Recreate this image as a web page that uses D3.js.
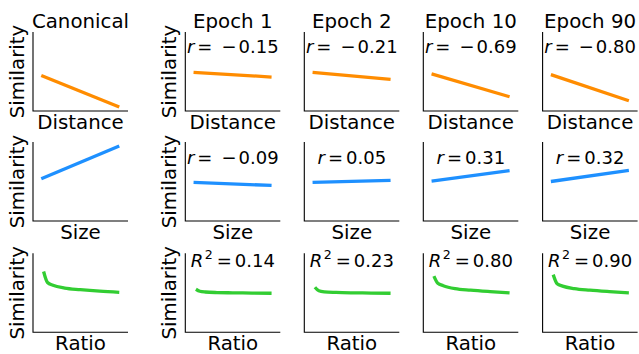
<!DOCTYPE html>
<html>
<head>
<meta charset="utf-8">
<script src="https://cdn.jsdelivr.net/npm/d3@7"></script>
<style>
  body { margin: 0; background: #fff; }
  text { font-family: "DejaVu Sans", sans-serif; fill: #000; }
</style>
</head>
<body>
<div id="chart"></div>
<script>
// column titles and row x-labels
const panelTitles = ["Canonical", "Epoch 1", "Epoch 2", "Epoch 10", "Epoch 90"];
const rowLabels = ["Distance", "Size", "Ratio"];

// linear rows: similarity at x=0 and x=1
const lineX = [0, 1];
const distanceLines = [[0.45, 0.05], [0.49, 0.43], [0.49, 0.40], [0.47, 0.18], [0.46, 0.13]];
const sizeLines = [[0.535, 0.95], [0.49, 0.45], [0.49, 0.515], [0.506, 0.637], [0.50, 0.64]];

// ratio row: curve samples
const ratioX = [0.03, 0.08, 0.15, 0.3, 0.5, 0.75, 1.0];
const ratioCurves = [
  [0.77, 0.63, 0.595, 0.56, 0.54, 0.52, 0.505],
  [0.545, 0.52, 0.51, 0.503, 0.50, 0.497, 0.494],
  [0.57, 0.525, 0.512, 0.505, 0.50, 0.497, 0.494],
  [0.71, 0.62, 0.59, 0.553, 0.533, 0.515, 0.50],
  [0.73, 0.615, 0.585, 0.553, 0.533, 0.515, 0.50]
];

// annotations (null = none)
const distanceR = [null, -0.15, -0.21, -0.69, -0.80];
const sizeR = [null, -0.09, 0.05, 0.31, 0.32];
const ratioR2 = [null, 0.14, 0.23, 0.80, 0.90];

const rowColors = ["#ff8c00", "#1e90ff", "#32cd32"];

const width = 639;
const height = 354;
const colLeft = [33, 185.3, 304.3, 423.3, 542.6];
const rowTop = [32, 142, 253.3];
const axW = 95;
const axH = 79;
const annotOffset = [21.3, 22, 13.4];
const labelSize = 19.8;

const svg = d3.select("#chart").append("svg")
    .attr("width", width)
    .attr("height", height)
    .attr("viewBox", [0, 0, width, height]);

svg.append("rect").attr("width", width).attr("height", height).attr("fill", "#fff");

const fmt = d3.format(".2f");

function addAnnotation(g, cx, cy, val, isR2) {
    const t = g.append("text")
        .attr("x", cx)
        .attr("y", cy)
        .attr("text-anchor", "middle")
        .attr("font-size", 18);
    if (isR2) {
        t.append("tspan").attr("font-style", "italic").text("R");
        t.append("tspan").attr("font-size", 12.6).attr("dy", -8).attr("dx", 1.5).text("2");
        t.append("tspan").attr("dy", 8).attr("dx", 4).text("=");
        t.append("tspan").attr("dx", 3).text(fmt(val));
    } else {
        t.append("tspan").attr("font-style", "italic").text("r");
        t.append("tspan").attr("dx", 3).text("=");
        if (val < 0) {
            t.append("tspan").attr("dx", 9).text("\u2212");
            t.append("tspan").attr("dx", 2).text(fmt(-val));
        } else {
            t.append("tspan").attr("dx", 3).text(fmt(val));
        }
    }
}

const rows = [
    { xs: lineX, ys: distanceLines, ann: distanceR, r2: false },
    { xs: lineX, ys: sizeLines, ann: sizeR, r2: false },
    { xs: ratioX, ys: ratioCurves, ann: ratioR2, r2: true }
];

rows.forEach((row, ri) => {
    panelTitles.forEach((title, ci) => {
        const left = colLeft[ci];
        const top = rowTop[ri];
        const x = d3.scaleLinear().domain([-0.106, 1.112]).range([left, left + axW]);
        const y = d3.scaleLinear().domain([0, 1]).range([top + axH, top]);
        const g = svg.append("g");

        const pts = row.xs.map((xv, k) => [xv, row.ys[ci][k]]);
        const line = d3.line()
            .x(d => x(d[0]))
            .y(d => y(d[1]))
            .curve(ri === 2 ? d3.curveMonotoneX : d3.curveLinear);

        g.append("path")
            .attr("d", line(pts))
            .attr("fill", "none")
            .attr("stroke", rowColors[ri])
            .attr("stroke-width", 3.3)
            .attr("stroke-linecap", "butt");

        // spines
        g.append("path")
            .attr("d", `M${left},${top}V${top + axH}H${left + axW}`)
            .attr("fill", "none")
            .attr("stroke", "#000")
            .attr("stroke-width", 1.1);

        // x label
        g.append("text")
            .attr("x", left + axW / 2)
            .attr("y", top + axH + 18)
            .attr("text-anchor", "middle")
            .attr("font-size", labelSize)
            .text(rowLabels[ri]);

        // y label
        if (ci < 2) {
            g.append("text")
                .attr("transform", `translate(${left - 9},${top + axH / 2}) rotate(-90)`)
                .attr("text-anchor", "middle")
                .attr("font-size", labelSize)
                .text("Similarity");
        }

        // title
        if (ri === 0) {
            g.append("text")
                .attr("x", left + axW / 2)
                .attr("y", top - 4.5)
                .attr("text-anchor", "middle")
                .attr("font-size", labelSize)
                .text(title);
        }

        if (row.ann[ci] !== null) {
            addAnnotation(g, left + axW / 2, top + annotOffset[ri], row.ann[ci], row.r2);
        }
    });
});
</script>
</body>
</html>
